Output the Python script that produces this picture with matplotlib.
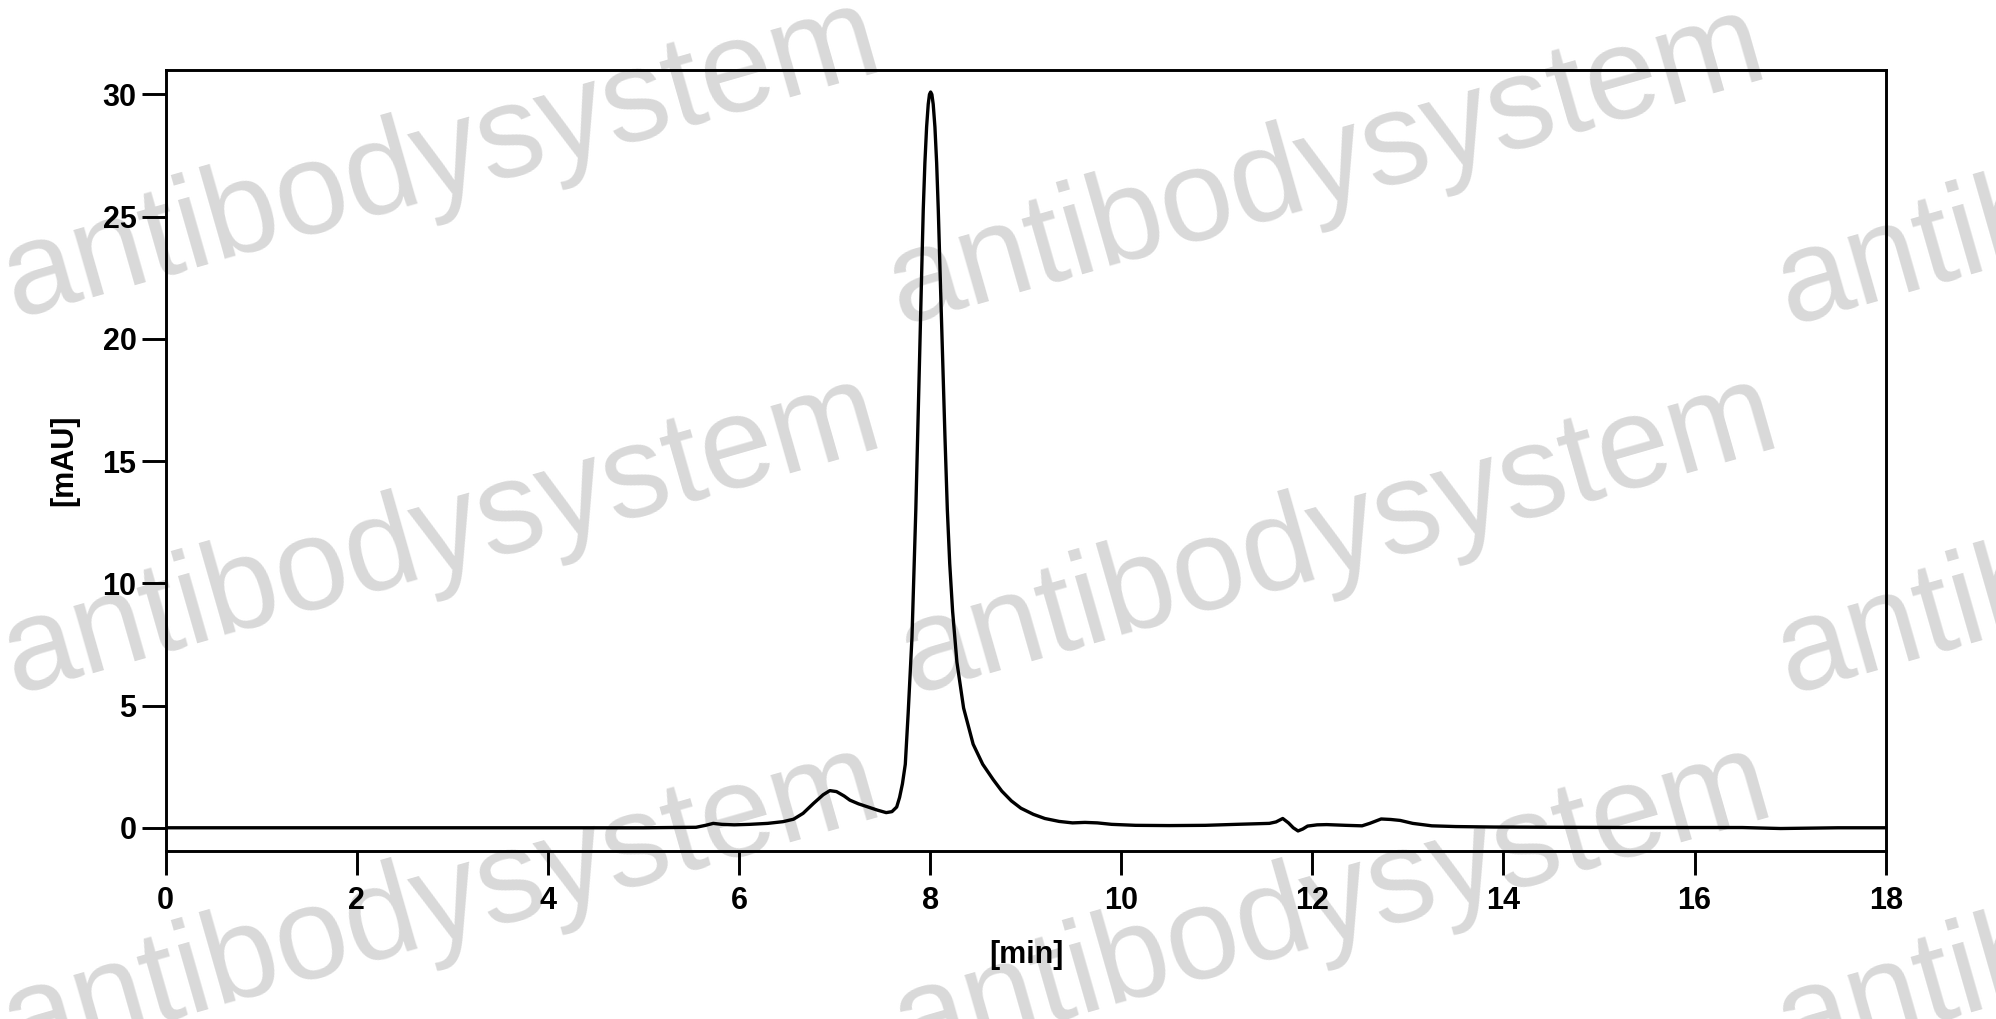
import matplotlib
matplotlib.use("Agg")
import matplotlib.pyplot as plt

# Chromatogram trace
time_min = [0.0, 2.0, 4.0, 5.0, 5.55, 5.65, 5.73, 5.82, 5.95, 6.11, 6.3, 6.46,
            6.57, 6.67, 6.78, 6.88, 6.95, 7.02, 7.1, 7.16, 7.25, 7.35, 7.45, 7.54,
            7.6, 7.65, 7.68, 7.71, 7.74, 7.77, 7.81, 7.85, 7.89, 7.91, 7.928, 7.945,
            7.963, 7.98, 7.993, 8.005, 8.018, 8.032, 8.05, 8.068, 8.085, 8.105,
            8.13, 8.155, 8.18, 8.205, 8.235, 8.28, 8.35, 8.45, 8.55, 8.66, 8.75,
            8.85, 8.95, 9.08, 9.2, 9.35, 9.49, 9.62, 9.75, 9.9, 10.15, 10.5, 10.88,
            11.2, 11.55, 11.62, 11.69, 11.75, 11.8, 11.85, 11.9, 11.95, 12.05,
            12.15, 12.35, 12.52, 12.6, 12.72, 12.82, 12.92, 13.05, 13.25, 13.5,
            13.9, 14.5, 15.5, 16.5, 16.9, 17.1, 17.5, 18.0]
signal_mau = [0.0, 0.0, 0.0, 0.0, 0.02, 0.1, 0.18, 0.14, 0.12, 0.14, 0.18, 0.25,
              0.35, 0.59, 1.0, 1.35, 1.52, 1.48, 1.3, 1.13, 0.98, 0.85, 0.72, 0.62,
              0.66, 0.85, 1.24, 1.8, 2.6, 4.69, 7.8, 13.0, 19.3, 22.5, 25.3, 27.2,
              28.67, 29.6, 30.0, 30.1, 30.0, 29.6, 28.67, 27.2, 25.3, 22.6, 19.3,
              16.0, 13.0, 10.8, 8.86, 6.78, 4.9, 3.42, 2.6, 1.97, 1.5, 1.1, 0.8,
              0.55, 0.38, 0.26, 0.2, 0.22, 0.2, 0.14, 0.1, 0.09, 0.1, 0.14, 0.18,
              0.24, 0.38, 0.2, 0.0, -0.13, -0.05, 0.07, 0.12, 0.13, 0.1, 0.08,
              0.18, 0.36, 0.34, 0.3, 0.18, 0.08, 0.05, 0.03, 0.02, 0.01, 0.01,
              -0.03, -0.02, 0.0, 0.0]

x_ticks = [0, 2, 4, 6, 8, 10, 12, 14, 16, 18]
y_ticks = [0, 5, 10, 15, 20, 25, 30]
x_label = "[min]"
y_label = "[mAU]"
watermark = "antibodysystem"

W, H = 1996, 1019
fig = plt.figure(figsize=(W / 100, H / 100), dpi=100)
fig.patch.set_facecolor("white")

# watermark (behind the axes)
starts = [(15, 318), (900, 325), (1789, 325),
          (15, 694), (912, 694), (1789, 694),
          (15, 1063), (906, 1063), (1789, 1063)]
for (px, py) in starts:
    fig.text(px / W, 1 - py / H, watermark, fontsize=94, color="#d9d9d9",
             family="Liberation Sans", rotation=16, rotation_mode="anchor",
             ha="left", va="baseline", zorder=-5)

ax = fig.add_axes([165.7 / W, 1 - 851 / H, (1885.7 - 165.7) / W, (851 - 70) / H])
ax.set_facecolor("none")
ax.plot(time_min, signal_mau, color="black", linewidth=2.4,
        solid_joinstyle="round", solid_capstyle="round")

ax.set_xlim(0, 18)
ax.set_ylim(-0.95, 31.0)
ax.set_xticks(x_ticks)
ax.set_yticks(y_ticks)
for s in ax.spines.values():
    s.set_linewidth(2.1)
ax.tick_params(axis="both", direction="out", length=17, width=2.1,
               labelsize=22, pad=8)
ax.tick_params(axis="y", pad=4)
for lab in ax.get_xticklabels() + ax.get_yticklabels():
    lab.set_fontweight("bold")
    lab.set_family("Liberation Sans")

fig.text(806 * 1.273 / W, 1 - 955 / H, x_label, fontsize=22, fontweight="bold",
         family="Liberation Sans", ha="center", va="center")
fig.text(64 / W, 1 - ((70 + 851) / 2) / H, y_label, fontsize=22, fontweight="bold",
         family="Liberation Sans", ha="center", va="center", rotation=90)

fig.savefig("out.png", dpi=100, facecolor="white")
